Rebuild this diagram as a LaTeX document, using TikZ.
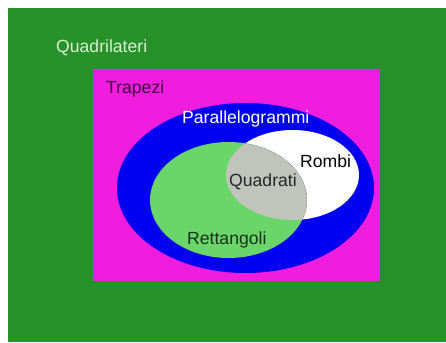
\documentclass[tikz,border=0pt]{standalone}
\usepackage{fontspec}
\setmainfont{Liberation Sans}

\definecolor{bggreen}{RGB}{39,146,42}
\definecolor{trapmag}{RGB}{240,28,222}
\definecolor{parblue}{RGB}{0,0,240}
\definecolor{retgreen}{RGB}{106,214,106}
\definecolor{quadgray}{RGB}{192,196,188}
\definecolor{quadtext}{RGB}{216,240,208}
\definecolor{traptext}{RGB}{64,8,64}
\definecolor{rettext}{RGB}{26,48,26}

\newcommand*{\picwd}{446}
\newcommand*{\picht}{342}

\begin{document}
\begin{tikzpicture}
[
	setlabel/.style={inner sep=0pt,font=\fontsize{17.6}{20}\selectfont},
	x=1pt,y=-1pt
]

	\useasboundingbox (0,0) rectangle (\picwd,\picht);

	% sets
	\fill[bggreen] (8,8) rectangle (\picwd,\picht);
	\fill[trapmag] (93,69) rectangle (380,281);
	\fill[parblue] (245.5,188) ellipse [x radius=128.5,y radius=85];
	\fill[white] (292.5,175) ellipse [x radius=66.5,y radius=45];
	\fill[retgreen] (228.5,200) ellipse [x radius=78.5,y radius=58];

	% squares = rectangles and rhombi
	\begin{scope}
		\clip (228.5,200) ellipse [x radius=78.5,y radius=58];
		\fill[quadgray] (292.5,175) ellipse [x radius=66.5,y radius=45];
	\end{scope}
	\begin{scope}
		\clip (292.5,175) ellipse [x radius=66.5,y radius=45];
		\draw[black!70,densely dotted,line width=0.4pt] (228.5,200) ellipse [x radius=78.5,y radius=58];
	\end{scope}

	% labels
	\node[setlabel,quadtext,anchor=west] (quad) at (56,48) {Quadrilateri};
	\node[setlabel,traptext,anchor=west] (trap) at (106,89) {Trapezi};
	\node[setlabel,white,anchor=west] (par) at (182,119) {Parallelogrammi};
	\node[setlabel,black,anchor=west] (rombi) at (300,161) {Rombi};
	\node[setlabel,black!85,anchor=west] (sq) at (229,182) {Quadrati};
	\node[setlabel,rettext,anchor=west] (ret) at (187,240) {Rettangoli};

\end{tikzpicture}
\end{document}
